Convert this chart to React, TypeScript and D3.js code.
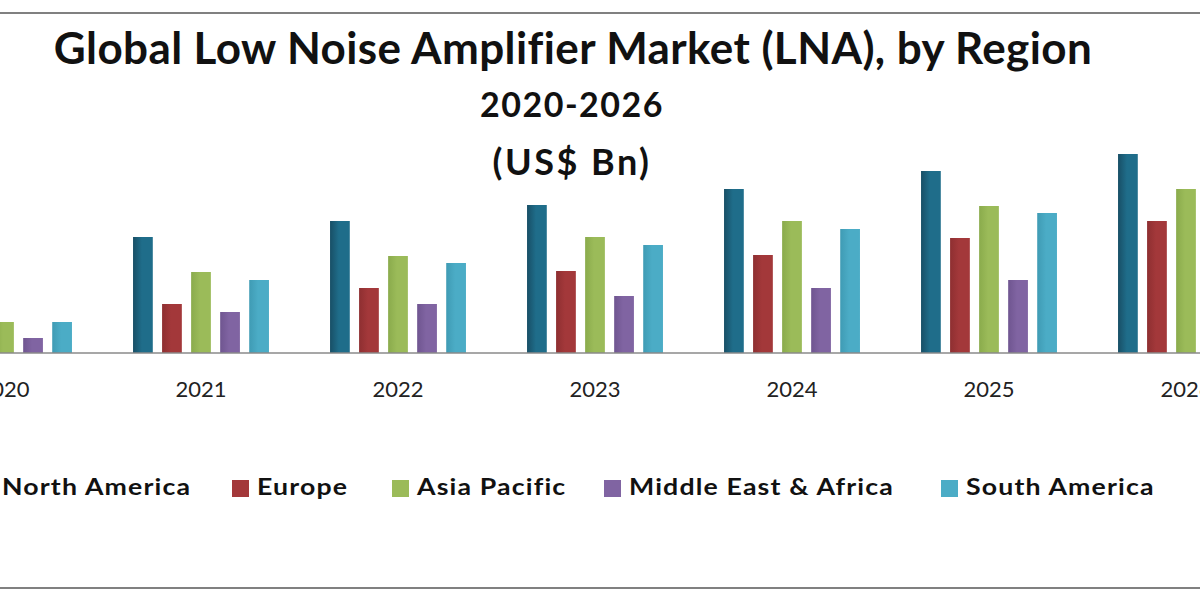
import React from 'react';
import * as d3 from 'd3';

// Chart data (US$ Bn)
const years = ['2020', '2021', '2022', '2023', '2024', '2025', '2026'];
const regions = ['North America', 'Europe', 'Asia Pacific', 'Middle East & Africa', 'South America'];
const northAmerica = [0.99, 1.16, 1.32, 1.48, 1.64, 1.82, 1.99];
const europe = [0.33, 0.49, 0.65, 0.82, 0.98, 1.15, 1.32];
const asiaPacific = [0.31, 0.81, 0.97, 1.16, 1.32, 1.47, 1.64];
const middleEastAfrica = [0.15, 0.41, 0.49, 0.57, 0.65, 0.73, 0.81];
const southAmerica = [0.31, 0.73, 0.90, 1.08, 1.24, 1.40, 1.56];
const titleLines = ['Global Low Noise Amplifier Market (LNA), by Region', '2020-2026', '(US$ Bn)'];

const seriesValues = [northAmerica, europe, asiaPacific, middleEastAfrica, southAmerica];

// styling
const colors = ['#1f6d8a', '#a3383a', '#9bbb59', '#8064a2', '#4bacc6'];
const darkEdge = ['#184f66', '#8e2f31', '#8aab4c', '#6f5590', '#3f9bb4'];
const legendX = [-23, 232, 392, 604, 941];

const W = 1200;
const H = 600;
const baseY = 353;

export default function App() {
  const x0 = d3.scaleBand<string>()
    .domain(years)
    .range([-94.5, 1284.5])
    .paddingInner(0.31)
    .paddingOuter(0.155);

  const x1 = d3.scaleBand<string>()
    .domain(regions)
    .range([0, x0.bandwidth()])
    .paddingInner(0.32)
    .paddingOuter(0);

  const y = d3.scaleLinear().domain([0, 2]).range([baseY, baseY - 200]);

  const font = "Lato, 'Open Sans', sans-serif";

  return (
    <svg width={W} height={H} style={{ position: 'absolute', left: 0, top: 0, background: '#fff' }}>
      <defs>
        {colors.map((c, i) => (
          <linearGradient key={i} id={`g${i}`} x1="0" x2="1" y1="0" y2="0">
            <stop offset="0%" stopColor={darkEdge[i]} />
            <stop offset="45%" stopColor={c} />
            <stop offset="100%" stopColor={c} />
          </linearGradient>
        ))}
      </defs>

      {/* frame lines */}
      <line x1={0} x2={W} y1={13} y2={13} stroke="#808080" strokeWidth={2} />
      <line x1={0} x2={W} y1={588} y2={588} stroke="#808080" strokeWidth={2} />

      {/* title */}
      <text x={573} y={64} textAnchor="middle" fontFamily={font} fontWeight={700} fontSize={44} letterSpacing={0.4} fill="#111">
        {titleLines[0]}
      </text>
      <text x={572} y={117} textAnchor="middle" fontFamily={font} fontWeight={700} fontSize={34} letterSpacing={1.5} fill="#111">
        {titleLines[1]}
      </text>
      <text x={572} y={175} textAnchor="middle" fontFamily={font} fontWeight={700} fontSize={36} letterSpacing={2.5} fill="#111">
        {titleLines[2]}
      </text>

      {/* bars */}
      {years.map((yr, yi) => (
        <g key={yr} transform={`translate(${x0(yr)},0)`}>
          {regions.map((r, ri) => {
            const v = seriesValues[ri][yi];
            return (
              <rect
                key={r}
                x={x1(r)}
                y={y(v)}
                width={x1.bandwidth()}
                height={baseY - y(v)}
                fill={`url(#g${ri})`}
              />
            );
          })}
        </g>
      ))}

      {/* axis line */}
      <line x1={0} x2={W} y1={baseY} y2={baseY} stroke="#8a8a8a" strokeWidth={1.5} />

      {/* year labels */}
      {years.map((yr) => (
        <text
          key={yr}
          x={(x0(yr) as number) + x0.bandwidth() / 2}
          y={397}
          textAnchor="middle"
          fontFamily={font}
          fontSize={22}
          fill="#222"
        >
          {yr}
        </text>
      ))}

      {/* legend */}
      {regions.map((r, i) => (
        <g key={r} transform={`translate(${legendX[i]},0)`}>
          <rect x={0} y={480} width={17} height={17} fill={colors[i]} />
          <text
            transform="translate(25,495) scale(1.16,1)"
            fontFamily={font}
            fontWeight={700}
            fontSize={23}
            letterSpacing={1}
            fill="#111"
          >
            {r}
          </text>
        </g>
      ))}
    </svg>
  );
}
